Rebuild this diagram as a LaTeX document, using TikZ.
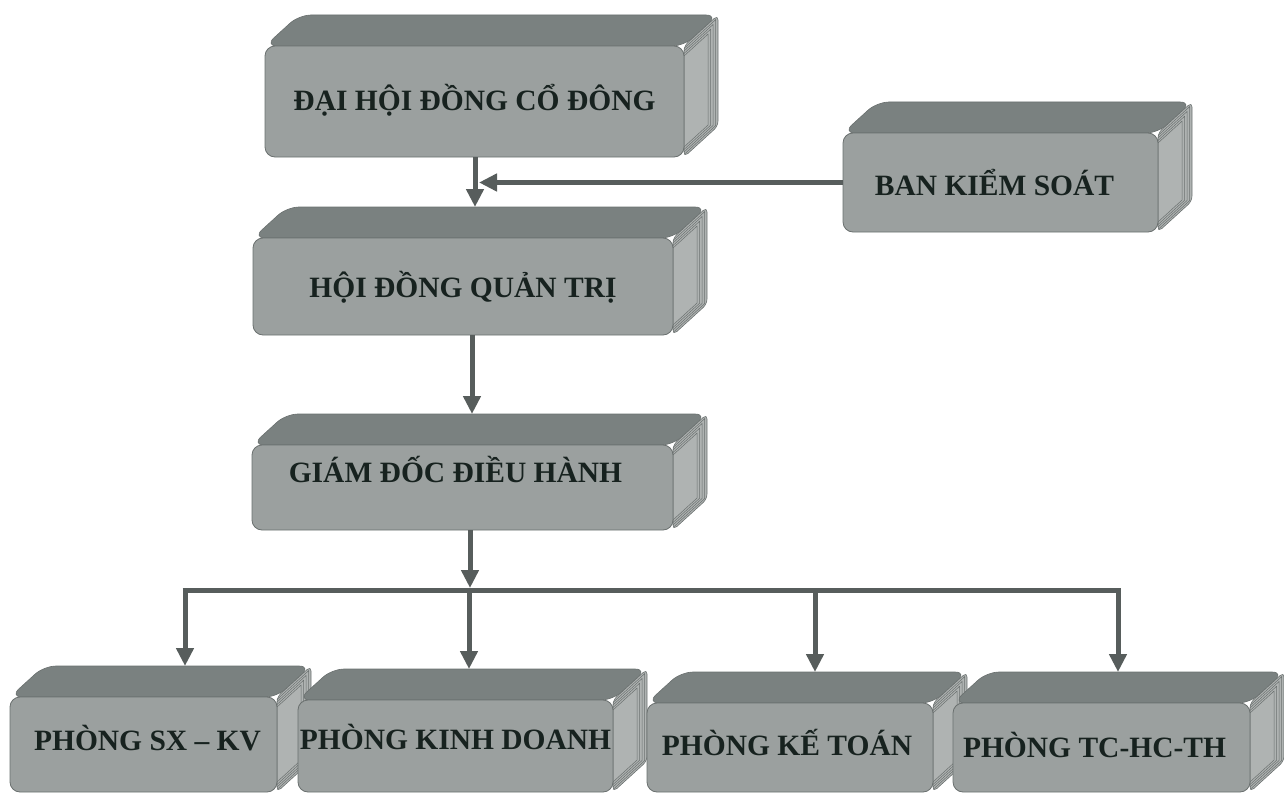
\documentclass[tikz,border=0pt]{standalone}
\usepackage{fontspec}
\setmainfont{Liberation Serif}
\usetikzlibrary{arrows.meta,calc}
\definecolor{frontc}{HTML}{9BA09F}
\definecolor{topc}{HTML}{7A8180}
\definecolor{sidec}{HTML}{AFB3B2}
\definecolor{edgec}{HTML}{6A706F}
\definecolor{linec}{HTML}{575D5C}
\definecolor{txtc}{HTML}{17221F}
\tikzset{
  frontface/.style={draw=edgec, line width=0.8bp, fill=frontc, rounded corners=10bp,
    inner sep=0pt, text height=20bp, text depth=0bp,
    font=\fontsize{29.6}{30}\selectfont\bfseries, text=txtc},
  topface/.style={fill=topc, draw=edgec, line width=0.6bp, rounded corners=12bp},
  sideface/.style={fill=sidec, draw=edgec, line width=0.6bp, rounded corners=5bp},
  stria/.style={draw=edgec, line width=0.5bp},
  arr/.style={draw=linec, line width=5bp, -{Triangle[length=18bp,width=17bp]}},
  busline/.style={draw=linec, line width=5bp},
}
% #1 name, #2 x1, #3 y1, #4 x2, #5 y2, #6 text, #7 raise
\newcommand\obox[7]{%
  \path[topface] (#2,#3) -- (#2+34,#3-31) -- (#4+34,#3-31) -- (#4,#3) -- cycle;
  \path[sideface] (#4,#3) -- (#4+34,#3-31) -- (#4+34,#5-31) -- (#4,#5) -- cycle;
  \foreach \s in {2.5,5,7.5,10}{
    \draw[stria] (#4,#3+\s) -- (#4+34-\s,#3-31+1.91*\s) -- (#4+34-\s,#5-31-0.09*\s) -- (#4,#5-\s);
  }
  \coordinate (#1t) at (#2+34,#3-31);
  \node[frontface, minimum width={(#4-#2)*1bp}, minimum height={(#5-#3)*1bp}]
    (#1) at ({(#2+#4)/2},{(#3+#5)/2}) {\raisebox{#7}{#6}};
}
\begin{document}
\begin{tikzpicture}[x=1bp,y=-1bp]
\useasboundingbox (0,0) rectangle (1284,794);
\obox{dh}{265}{46}{684}{157}{ĐẠI HỘI ĐỒNG CỔ ĐÔNG}{1bp}
\obox{bks}{843}{133}{1158}{232}{BAN KIỂM SOÁT\kern12bp}{-3bp}
\obox{hdqt}{253}{238}{673}{335}{HỘI ĐỒNG QUẢN TRỊ}{-1bp}
\obox{gd}{252}{445}{673}{530}{GIÁM ĐỐC ĐIỀU HÀNH\kern14bp}{15bp}
\obox{sx}{10}{697}{277}{792}{\kern8bp PHÒNG SX – KV}{4bp}
\obox{kd}{298}{700}{613}{792}{PHÒNG KINH DOANH}{7bp}
\obox{kt}{647}{703}{933}{792}{PHÒNG KẾ TOÁN\kern6bp}{2bp}
\obox{tc}{953}{703}{1250}{792}{PHÒNG TC-HC-TH\kern14bp}{0bp}

\coordinate (xa) at (475,0);
\coordinate (xb) at (472,0);
\coordinate (xc) at (470,0);
\coordinate (busL) at (182.5,590);
\coordinate (busR) at (1120.5,590);
\coordinate (d1) at (185,590);
\coordinate (d2) at (469,590);
\coordinate (d3) at (815,590);
\coordinate (d4) at (1118,590);

\draw[arr] (xa |- dh.south) -- (xa |- hdqtt);
\draw[arr] (bks.west) -- ($(xa |- bks.west)+(4,0)$);
\draw[arr] (xb |- hdqt.south) -- (xb |- gdt);
\draw[busline] (busL) -- (busR);
\draw[arr] (xc |- gd.south) -- ($(xc |- busL)+(0,-2)$);
\draw[arr] (d1) -- (d1 |- sxt);
\draw[arr] (d2) -- (d2 |- kdt);
\draw[arr] (d3) -- (d3 |- ktt);
\draw[arr] (d4) -- (d4 |- tct);
\end{tikzpicture}
\end{document}
